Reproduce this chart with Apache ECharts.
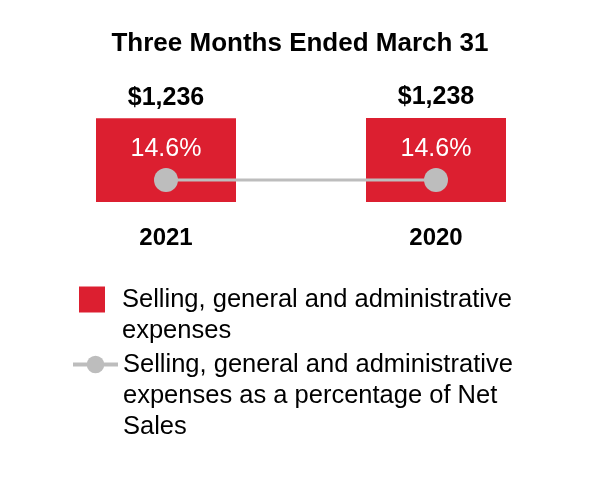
<!DOCTYPE html>
<html><head><meta charset="utf-8">
<script src="https://cdn.jsdelivr.net/npm/echarts@6/dist/echarts.min.js"></script>
<style>html,body{margin:0;padding:0;background:#fff}#c{width:600px;height:480px}</style>
</head><body><div id="c"></div>
<script>
const categories = ['2021', '2020'];
const sgaValues = [1236, 1238];
const sgaPctValues = [14.6, 14.6];
const seriesNames = [
  'Selling, general and administrative\nexpenses',
  'Selling, general and administrative\nexpenses as a percentage of Net\nSales'
];
const titleText = 'Three Months Ended March 31';
const FONT = '"Liberation Sans", Arial, Helvetica, sans-serif';
// prepend blank lines so that the first text line sits level with the legend icon
const alignFirstLine = name => '\n'.repeat(name.split('\n').length - 1) + name;
const chart = echarts.init(document.getElementById('c'), null, {renderer: 'canvas'});
chart.setOption({
  animation: false,
  backgroundColor: '#fff',
  title: {
    text: titleText, left: 'center', top: 26,
    textStyle: {fontFamily: FONT, fontSize: 26, fontWeight: 'bold', color: '#000'}
  },
  grid: {left: 31, right: 29, top: 107, bottom: 278},
  xAxis: {
    type: 'category', data: categories,
    axisLine: {show: false}, axisTick: {show: false},
    axisLabel: {fontFamily: FONT, fontSize: 24, fontWeight: 'bold', color: '#000', margin: 24}
  },
  yAxis: [
    {type: 'value', min: 0, max: 1400, show: false},
    {type: 'value', min: 0, max: 63, show: false}
  ],
  legend: [
    {
      data: [{name: seriesNames[0], icon: 'path://M0,0H10V10H0Z'}],
      orient: 'vertical', left: 79, top: 253, padding: 0,
      itemWidth: 50, itemHeight: 26, selectedMode: false,
      formatter: alignFirstLine,
      textStyle: {fontFamily: FONT, fontSize: 25.5, color: '#000', lineHeight: 31}
    },
    {
      data: [{name: seriesNames[1]}],
      orient: 'vertical', left: 71, top: 287, padding: 0,
      itemWidth: 45, itemHeight: 22, selectedMode: false,
      lineStyle: {width: 4},
      formatter: alignFirstLine,
      textStyle: {fontFamily: FONT, fontSize: 25.5, color: '#000', lineHeight: 31}
    }
  ],
  series: [
    {
      name: seriesNames[0], type: 'bar', data: sgaValues, barWidth: 140,
      itemStyle: {color: '#DC1F30'},
      label: {
        show: true, position: 'top', distance: 8,
        formatter: p => '$' + p.value.toLocaleString('en-US'),
        fontFamily: FONT, fontSize: 25, fontWeight: 'bold', color: '#000'
      }
    },
    {
      name: seriesNames[1], type: 'line', yAxisIndex: 1, data: sgaPctValues,
      symbol: 'circle', symbolSize: 24,
      lineStyle: {color: '#BDBDBD', width: 3},
      itemStyle: {color: '#BDBDBD'},
      label: {
        show: true, position: 'top', distance: 6,
        formatter: p => p.value.toFixed(1) + '%',
        fontFamily: FONT, fontSize: 25, color: '#fff'
      }
    }
  ]
});
</script></body></html>
